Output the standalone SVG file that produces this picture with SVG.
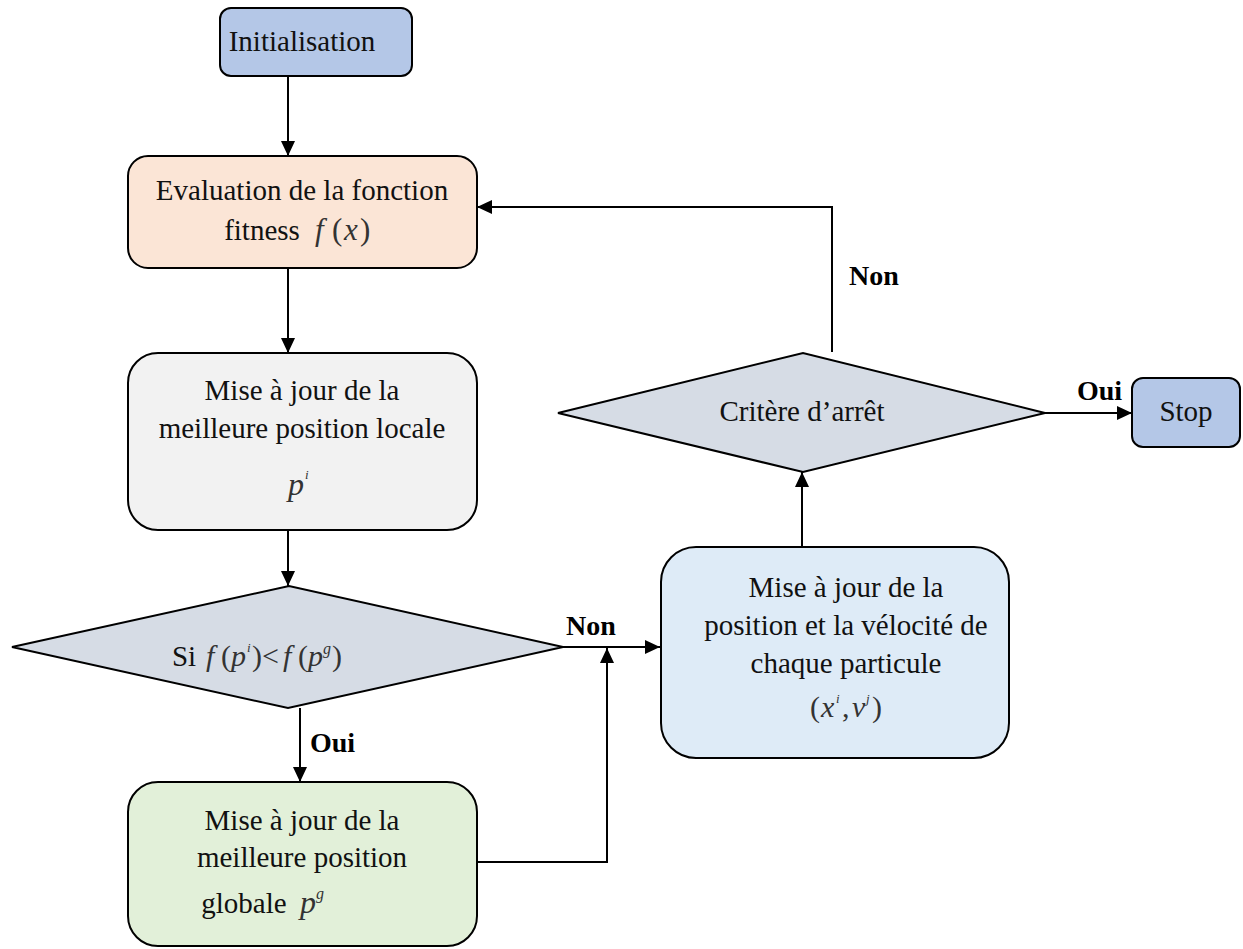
<svg xmlns="http://www.w3.org/2000/svg" width="1243" height="949" viewBox="0 0 1243 949">
<defs>
<marker id="arr" markerUnits="userSpaceOnUse" markerWidth="16" markerHeight="16" viewBox="0 0 16 16" refX="15" refY="8" orient="auto">
<path d="M0,1 L15,8 L0,15 Z" fill="#000"/>
</marker>
</defs>
<style>
.box{stroke:#000;stroke-width:2}
.t{font-family:"Liberation Serif","Times New Roman",serif;font-size:29px;fill:#111;text-anchor:middle}
.b{font-family:"Liberation Serif","Times New Roman",serif;font-size:28px;font-weight:bold;fill:#000}
.m{font-family:"Liberation Serif","Times New Roman",serif;font-style:italic;fill:#333}
.u{font-family:"Liberation Serif","Times New Roman",serif;fill:#333}
.c{fill:none;stroke:#000;stroke-width:2}
</style>
<rect width="1243" height="949" fill="#fff"/>
<g id="connectors">
<line class="c" x1="288" y1="76" x2="288" y2="156" marker-end="url(#arr)"/>
<line class="c" x1="288" y1="268" x2="288" y2="353" marker-end="url(#arr)"/>
<line class="c" x1="288" y1="530" x2="288" y2="586" marker-end="url(#arr)"/>
<line class="c" x1="300" y1="708" x2="300" y2="782" marker-end="url(#arr)"/>
<polyline class="c" points="477,862 607,862 607,648" marker-end="url(#arr)"/>
<line class="c" x1="563" y1="647" x2="660" y2="647" marker-end="url(#arr)"/>
<line class="c" x1="802" y1="547" x2="802" y2="472" marker-end="url(#arr)"/>
<line class="c" x1="1045" y1="413" x2="1132" y2="413" marker-end="url(#arr)"/>
<polyline class="c" points="832,352 832,207 477,207" marker-end="url(#arr)"/>
<text class="b" x="566" y="635">Non</text>
<text class="b" x="310" y="752">Oui</text>
<text class="b" x="1077" y="400">Oui</text>
<text class="b" x="849" y="285">Non</text>
</g>
<g id="init">
<rect class="box" x="220" y="8" width="192" height="68" rx="11" fill="#b4c7e7"/>
<text class="t" x="302" y="51">Initialisation</text>
</g>
<g id="eval">
<rect class="box" x="128" y="156" width="349" height="112" rx="20" fill="#fbe5d6"/>
<text class="t" x="302" y="200">Evaluation de la fonction</text>
<text class="t" x="262" y="240">fitness</text>
<text class="m" x="315" y="240" font-size="31">f</text>
<text class="u" x="332" y="240" font-size="31">(</text>
<text class="m" x="344" y="240" font-size="31">x</text>
<text class="u" x="360" y="240" font-size="31">)</text>
</g>
<g id="local">
<rect class="box" x="128" y="353" width="349" height="177" rx="30" fill="#f2f2f2"/>
<text class="t" x="302" y="400">Mise à jour de la</text>
<text class="t" x="302" y="438">meilleure position locale</text>
<text class="m" x="288" y="495" font-size="32">p</text>
<text class="m" x="305" y="479" font-size="13">i</text>
</g>
<g id="decision1">
<polygon class="box" points="12,647 289,586 563,647 288,708" fill="#d6dce5"/>
<text class="t" x="184" y="666">Si</text>
<text class="m" x="206" y="666" font-size="30">f</text>
<text class="u" x="221" y="666" font-size="30">(</text>
<text class="m" x="231" y="666" font-size="30">p</text>
<text class="m" x="247" y="652" font-size="13">i</text>
<text class="u" x="252" y="666" font-size="30">)&lt;</text>
<text class="m" x="283" y="666" font-size="30">f</text>
<text class="u" x="298" y="666" font-size="30">(</text>
<text class="m" x="308" y="666" font-size="30">p</text>
<text class="m" x="323" y="654" font-size="16">g</text>
<text class="u" x="332" y="666" font-size="30">)</text>
</g>
<g id="global">
<rect class="box" x="128" y="782" width="349" height="164" rx="30" fill="#e2f0d9"/>
<text class="t" x="302" y="830">Mise à jour de la</text>
<text class="t" x="302" y="867">meilleure position</text>
<text class="t" x="244" y="913">globale</text>
<text class="m" x="300" y="913" font-size="32">p</text>
<text class="m" x="316" y="899" font-size="16">g</text>
</g>
<g id="velocity">
<rect class="box" x="661" y="547" width="348" height="211" rx="35" fill="#deebf7"/>
<text class="t" x="846" y="597">Mise à jour de la</text>
<text class="t" x="846" y="635">position et la vélocité de</text>
<text class="t" x="846" y="673">chaque particule</text>
<text class="u" x="810" y="717" font-size="30">(</text>
<text class="m" x="821" y="717" font-size="30">x</text>
<text class="m" x="836" y="703" font-size="13">i</text>
<text class="u" x="842" y="717" font-size="30">,</text>
<text class="m" x="852" y="717" font-size="30">v</text>
<text class="m" x="866" y="703" font-size="13">j</text>
<text class="u" x="872" y="717" font-size="30">)</text>
</g>
<g id="decision2">
<polygon class="box" points="558,413 803,353 1045,413 803,472" fill="#d6dce5"/>
<text class="t" x="802" y="421">Critère d’arrêt</text>
</g>
<g id="stop">
<rect class="box" x="1132" y="378" width="108" height="69" rx="11" fill="#b4c7e7"/>
<text class="t" x="1186" y="421">Stop</text>
</g>
</svg>
